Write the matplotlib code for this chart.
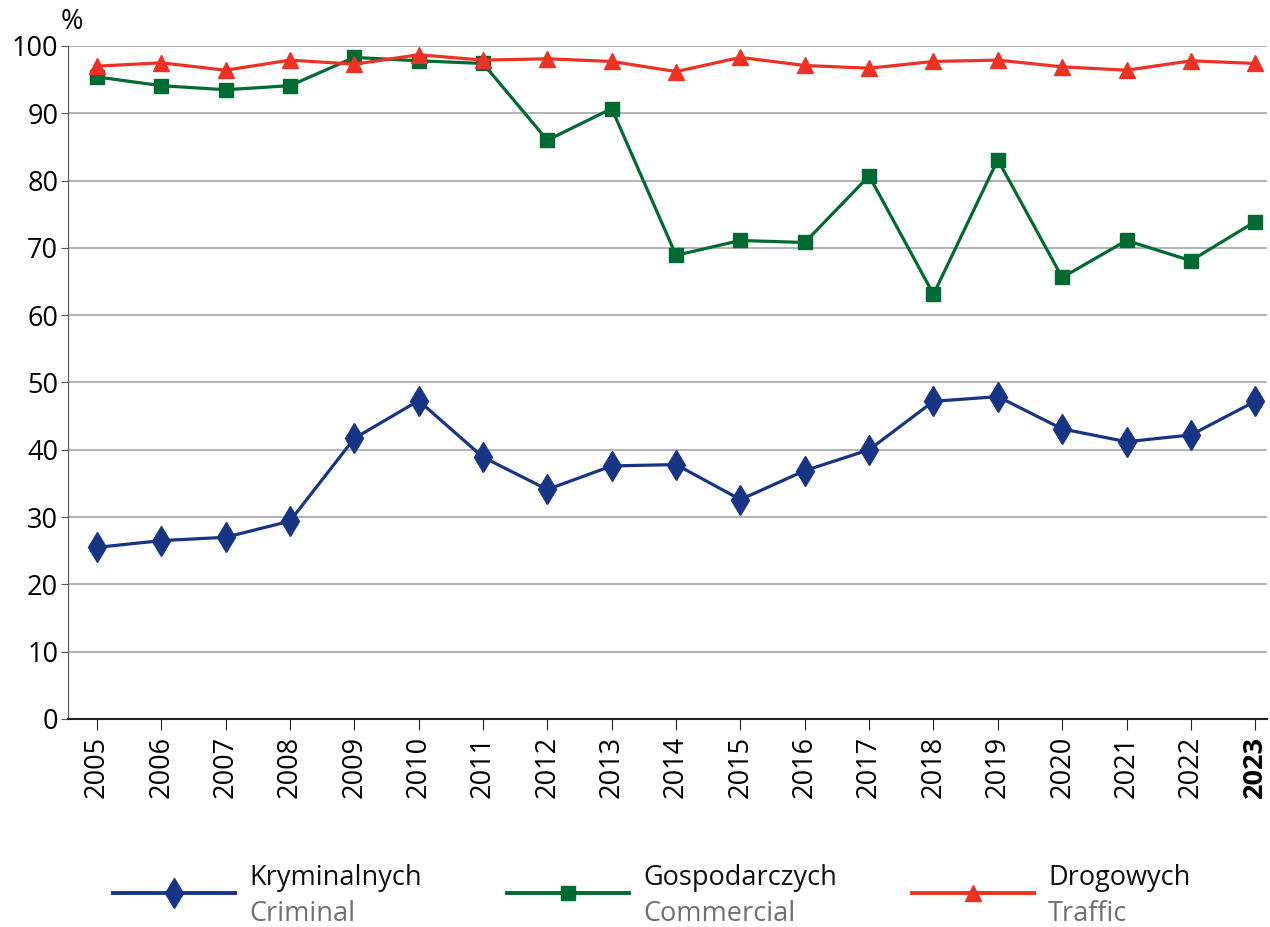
import matplotlib.pyplot as plt
from matplotlib.lines import Line2D

plt.rcParams['font.family'] = ['Open Sans', 'DejaVu Sans']

years = list(range(2005, 2024))
year_labels = [str(y) for y in years]

criminal = [25.5, 26.5, 27.0, 29.4, 41.7, 47.3, 38.9, 34.1, 37.6, 37.8,
            32.6, 36.9, 40.0, 47.2, 47.9, 43.1, 41.2, 42.2, 47.2]
commercial = [95.4, 94.1, 93.5, 94.1, 98.3, 97.8, 97.4, 86.0, 90.7, 68.9,
              71.1, 70.8, 80.7, 63.1, 83.1, 65.6, 71.1, 68.1, 73.9]
traffic = [97.0, 97.5, 96.4, 97.9, 97.3, 98.7, 97.9, 98.1, 97.7, 96.2,
           98.3, 97.1, 96.7, 97.7, 97.9, 96.9, 96.4, 97.8, 97.4]

names_pl = ["Kryminalnych", "Gospodarczych", "Drogowych"]
names_en = ["Criminal", "Commercial", "Traffic"]
colors = ["#183484", "#006a33", "#ee3124"]
markers = ["d", "s", "^"]
msizes = [15, 10, 11.5]
fs = 19.5

fig = plt.figure(figsize=(12.7, 9.27), dpi=100)
ax = fig.add_axes([0.0535, 0.2244, 0.9445, 0.726])

for data, c, m, ms in zip([criminal, commercial, traffic], colors, markers, msizes):
    ax.plot(years, data, color=c, marker=m, markersize=ms, lw=2.3,
            clip_on=False, zorder=3)

ax.set_ylim(0, 100)
ax.set_xlim(2004.55, 2023.19)
ax.set_yticks(range(0, 101, 10))
ax.set_xticks(years)
ax.set_xticklabels(year_labels, rotation=90, fontsize=fs)
ax.get_xticklabels()[-1].set_fontweight("bold")
ax.tick_params(axis="y", labelsize=fs, length=5, color="#555555", pad=2)
ax.tick_params(axis="x", length=8, color="#222222", pad=4)
ax.grid(axis="y", color="#a6a6a6", lw=1.2, zorder=0)
for s in ["top", "right"]:
    ax.spines[s].set_visible(False)
ax.spines["left"].set_color("#555555")
ax.spines["bottom"].set_color("#222222")
ax.spines["bottom"].set_linewidth(1.5)
fig.text(61 / 1270, 1 - 22 / 927, "%", fontsize=fs, ha="left", va="center")

# legend drawn by hand
leg_x = [113, 507, 912]
for x0, c, m, ms, pl, en in zip(leg_x, colors, markers, msizes, names_pl, names_en):
    y = 1 - 893 / 927
    fig.add_artist(Line2D([x0 / 1270, (x0 + 122) / 1270], [y, y], color=c, lw=2.8,
                          transform=fig.transFigure))
    fig.add_artist(Line2D([(x0 + 61) / 1270], [y], color=c, marker=m, markersize=ms,
                          transform=fig.transFigure))
    fig.text((x0 + 136) / 1270, 1 - 878 / 927, pl, fontsize=fs, va="center", color="#111111")
    fig.text((x0 + 136) / 1270, 1 - 914 / 927, en, fontsize=fs, va="center", color="#707070")

fig.savefig("out.png", dpi=100)
